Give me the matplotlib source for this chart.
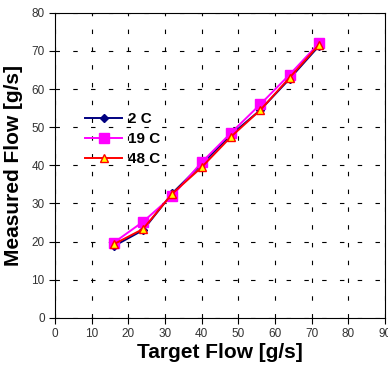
import matplotlib
matplotlib.use("Agg")
import matplotlib.pyplot as plt

plt.rcParams["font.family"] = ["Liberation Sans", "DejaVu Sans"]

target = [16, 24, 32, 40, 48, 56, 64, 72]
flow_2c = [18.8, 23.0, 32.7, 40.3, 48.0, 54.5, 62.7, 71.3]
flow_19c = [19.7, 25.2, 32.0, 40.8, 48.5, 56.0, 63.8, 72.0]
flow_48c = [19.3, 23.3, 32.6, 39.5, 47.5, 54.5, 63.0, 71.6]

fig = plt.figure(figsize=(3.88, 3.67), dpi=100)
ax = fig.add_axes([0.142, 0.134, 0.850, 0.831])

ax.plot(target, flow_2c, color="#000080", marker="D", markersize=4, lw=1.4, label="2 C")
ax.plot(target, flow_19c, color="#ff00ff", marker="s", markersize=6.5, lw=1.4, label="19 C")
ax.plot(target, flow_48c, color="#ff0000", marker="^", markersize=5.5, lw=1.4,
        markerfacecolor="#ffff00", markeredgecolor="#ff0000", label="48 C")

ax.set_xlim(0, 90)
ax.set_ylim(0, 80)
ax.set_xticks(range(0, 91, 10))
ax.set_yticks(range(0, 81, 10))
ax.grid(True, color="black", linestyle=(0, (4, 12)), linewidth=0.8)
ax.tick_params(labelsize=8.5, length=4, labelcolor="#333333")

ax.set_xlabel("Target Flow [g/s]", fontsize=15, fontweight="bold", labelpad=2)
ax.set_ylabel("Measured Flow [g/s]", fontsize=15, fontweight="bold", labelpad=6)

leg = ax.legend(loc="upper left", bbox_to_anchor=(0.05, 0.72), frameon=False,
                prop={"weight": "bold", "size": 11}, handlelength=2.4,
                labelspacing=0.4, handletextpad=0.4)

fig.savefig("out.png", dpi=100)
